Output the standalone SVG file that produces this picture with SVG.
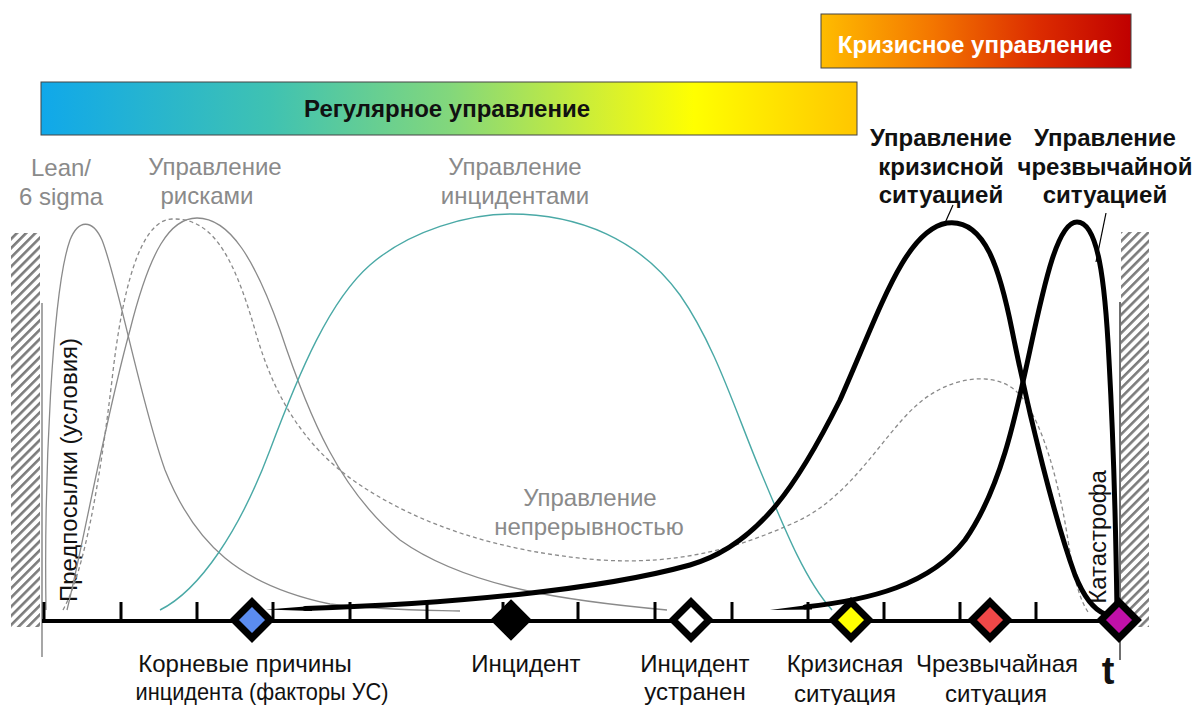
<svg xmlns="http://www.w3.org/2000/svg" width="1197" height="705" viewBox="0 0 1197 705">
  <style>
    .lbl { font-family: "Liberation Sans", Arial, sans-serif; font-size: 24px; text-anchor: middle; }
    .gray { fill: #8a8a8a; }
    .dark { fill: #111; }
    .bold { font-weight: bold; }
    .thin { fill: none; stroke: #8a8a8a; stroke-width: 1.3; }
    .dash { stroke-dasharray: 4 3; }
    .teal { fill: none; stroke: #4aa9a6; stroke-width: 1.4; }
    .thick { fill: none; stroke: #000; stroke-width: 5; stroke-linecap: round; }
    .tick { stroke: #000; stroke-width: 3; }
    .dia { stroke: #000; stroke-width: 7; stroke-linejoin: miter; }
    .wall { fill: url(#hatch); }
  </style>
  <defs>
    <pattern id="hatch" patternUnits="userSpaceOnUse" width="6.5" height="6.5" patternTransform="rotate(45)">
      <rect x="0" y="0" width="2.6" height="6.5" fill="#7c7c7c"/>
    </pattern>
    <linearGradient id="gRegular" x1="0" y1="0" x2="1" y2="0">
      <stop offset="0" stop-color="#10a8ea"/>
      <stop offset="0.28" stop-color="#3fc2b2"/>
      <stop offset="0.5" stop-color="#82d77c"/>
      <stop offset="0.7" stop-color="#d9f12c"/>
      <stop offset="0.8" stop-color="#ffff00"/>
      <stop offset="1" stop-color="#ffc600"/>
    </linearGradient>
    <linearGradient id="gCrisis" x1="0" y1="0" x2="1" y2="0">
      <stop offset="0" stop-color="#ffbc00"/>
      <stop offset="0.35" stop-color="#f47800"/>
      <stop offset="0.7" stop-color="#dc2c00"/>
      <stop offset="1" stop-color="#c00000"/>
    </linearGradient>
    <path id="dshape" d="M0,-18 L18,0 L0,18 L-18,0 Z"/>
  </defs>

  <rect width="1197" height="705" fill="#fff"/>

  <!-- management mode bars -->
  <g id="bar-regular">
    <rect x="41" y="82" width="816" height="53" fill="url(#gRegular)" stroke="#444" stroke-width="1"/>
    <text class="lbl bold dark" x="447" y="117">Регулярное управление</text>
  </g>
  <g id="bar-crisis">
    <rect x="821" y="14" width="310" height="54" fill="url(#gCrisis)" stroke="#444" stroke-width="1"/>
    <text class="lbl bold" x="975" y="53" fill="#fff">Кризисное управление</text>
  </g>

  <!-- hatched boundary walls -->
  <g id="walls">
    <rect class="wall" x="11" y="233" width="29" height="394"/>
    <rect class="wall" x="1121" y="232" width="28" height="395"/>
    <line x1="42" y1="303" x2="42" y2="657" stroke="#777" stroke-width="1.3"/>
    <line x1="1120" y1="302" x2="1120" y2="660" stroke="#222" stroke-width="1.3"/>
  </g>

  <!-- curve labels -->
  <g id="label-lean">
    <text class="lbl gray" x="61" y="176">Lean/</text>
    <text class="lbl gray" x="61" y="205">6 sigma</text>
  </g>
  <g id="label-risk">
    <text class="lbl gray" x="215" y="175">Управление</text>
    <text class="lbl gray" x="207" y="204">рисками</text>
  </g>
  <g id="label-incidents">
    <text class="lbl gray" x="515" y="175">Управление</text>
    <text class="lbl gray" x="515" y="204">инцидентами</text>
  </g>
  <g id="label-continuity">
    <text class="lbl gray" x="590" y="506">Управление</text>
    <text class="lbl gray" x="589" y="535">непрерывностью</text>
  </g>
  <g id="label-crisis-mgmt">
    <text class="lbl bold dark" x="941" y="146">Управление</text>
    <text class="lbl bold dark" x="941" y="175">кризисной</text>
    <text class="lbl bold dark" x="941" y="203">ситуацией</text>
  </g>
  <g id="label-emergency-mgmt">
    <text class="lbl bold dark" x="1105" y="146">Управление</text>
    <text class="lbl bold dark" x="1105" y="175">чрезвычайной</text>
    <text class="lbl bold dark" x="1105" y="203">ситуацией</text>
  </g>
  <g id="label-preconditions">
    <text class="lbl dark" transform="translate(77,470) rotate(-90)">Предпосылки (условия)</text>
  </g>
  <g id="label-catastrophe">
    <text class="lbl dark" transform="translate(1106,537) rotate(-90)">Катастрофа</text>
  </g>

  <!-- curves -->
  <g id="connectors">
    <!-- Lean / 6 sigma -->
    <path class="thin" d="M46,610 C44,480 52,290 70,240 C78,220 92,218 102,240 C118,280 140,400 165,470 C195,545 240,585 330,604 C380,610 420,610 460,611"/>
    <!-- risk management, solid -->
    <path class="thin" d="M67,610 C80,560 105,420 130,330 C150,250 170,218 197,218 C230,218 255,260 280,330 C310,420 340,490 400,540 C470,590 580,602 667,610"/>
    <!-- risk / continuity management, dashed -->
    <path class="thin dash" d="M63,610 C85,570 100,480 112,380 C122,290 140,220 172,219 C210,218 232,250 255,330 C272,390 300,445 360,485 C420,525 500,552 600,560 C680,565 740,548 800,520 C860,490 890,420 930,395 C960,375 1000,372 1020,395 C1045,425 1060,490 1068,540 C1074,580 1080,600 1088,612"/>
    <!-- incident management -->
    <path class="teal" d="M160,610 C200,590 240,530 270,450 C300,370 330,300 370,265 C410,230 470,214 510,214 C580,214 640,240 680,295 C715,345 735,410 760,470 C785,530 805,580 832,610"/>
    <!-- crisis management -->
    <path d="M266,609.5 L312,606 L312,611 Z" fill="#000"/>
    <path class="thick" d="M305,608.5 C450,604 600,590 690,565 C760,545 800,480 840,400 C880,310 905,230 947,223 C985,218 1000,270 1012,330 C1030,420 1055,520 1075,575 C1085,600 1095,610 1105,614"/>
    <!-- emergency management -->
    <path d="M770,610 L812,604.5 L812,609.5 Z" fill="#000"/>
    <path class="thick" d="M805,607 C870,600 930,585 965,540 C1000,490 1015,420 1030,350 C1045,280 1058,222 1077,222 C1098,222 1105,280 1109,360 C1114,450 1116,540 1117,612"/>
    <!-- label leaders -->
    <line x1="953" y1="205" x2="945" y2="223" stroke="#000" stroke-width="1.2"/>
    <line x1="1106" y1="213" x2="1096" y2="262" stroke="#000" stroke-width="1.2"/>
  </g>

  <!-- time axis -->
  <g id="axis">
    <line x1="42" y1="621" x2="1118" y2="621" stroke="#000" stroke-width="4"/>
    <line class="tick" x1="44" y1="602" x2="44" y2="621"/>
    <line class="tick" x1="121" y1="602" x2="121" y2="621"/>
    <line class="tick" x1="197" y1="602" x2="197" y2="621"/>
    <line class="tick" x1="273" y1="602" x2="273" y2="621"/>
    <line class="tick" x1="350" y1="602" x2="350" y2="621"/>
    <line class="tick" x1="427" y1="602" x2="427" y2="621"/>
    <line class="tick" x1="503" y1="602" x2="503" y2="621"/>
    <line class="tick" x1="578" y1="602" x2="578" y2="621"/>
    <line class="tick" x1="655" y1="602" x2="655" y2="621"/>
    <line class="tick" x1="732" y1="602" x2="732" y2="621"/>
    <line class="tick" x1="808" y1="602" x2="808" y2="621"/>
    <line class="tick" x1="884" y1="602" x2="884" y2="621"/>
    <line class="tick" x1="960" y1="602" x2="960" y2="621"/>
    <line class="tick" x1="1036" y1="602" x2="1036" y2="621"/>
    <text class="lbl bold dark" x="1108" y="684" style="font-size:38px">t</text>
  </g>

  <!-- events on the axis -->
  <g id="root-causes">
    <use href="#dshape" class="dia" x="252" y="620" fill="#5b8cf0"/>
    <text class="lbl dark" x="245" y="672">Корневые причины</text>
    <text class="lbl dark" x="262" y="700" textLength="253" lengthAdjust="spacingAndGlyphs">инцидента (факторы УС)</text>
  </g>
  <g id="incident">
    <use href="#dshape" class="dia" x="511" y="620" fill="#000" style="stroke-width:4"/>
    <text class="lbl dark" x="526" y="672">Инцидент</text>
  </g>
  <g id="incident-resolved">
    <use href="#dshape" class="dia" x="691" y="620" fill="#fff"/>
    <text class="lbl dark" x="695" y="672">Инцидент</text>
    <text class="lbl dark" x="695" y="700">устранен</text>
  </g>
  <g id="crisis">
    <use href="#dshape" class="dia" x="851" y="620" fill="#ffff00"/>
    <text class="lbl dark" x="845" y="672">Кризисная</text>
    <text class="lbl dark" x="845" y="702">ситуация</text>
  </g>
  <g id="emergency">
    <use href="#dshape" class="dia" x="990" y="620" fill="#f04848"/>
    <text class="lbl dark" x="997" y="672">Чрезвычайная</text>
    <text class="lbl dark" x="996" y="702">ситуация</text>
  </g>
  <g id="catastrophe">
    <use href="#dshape" class="dia" x="1119" y="620" fill="#c010a8"/>
  </g>
</svg>
